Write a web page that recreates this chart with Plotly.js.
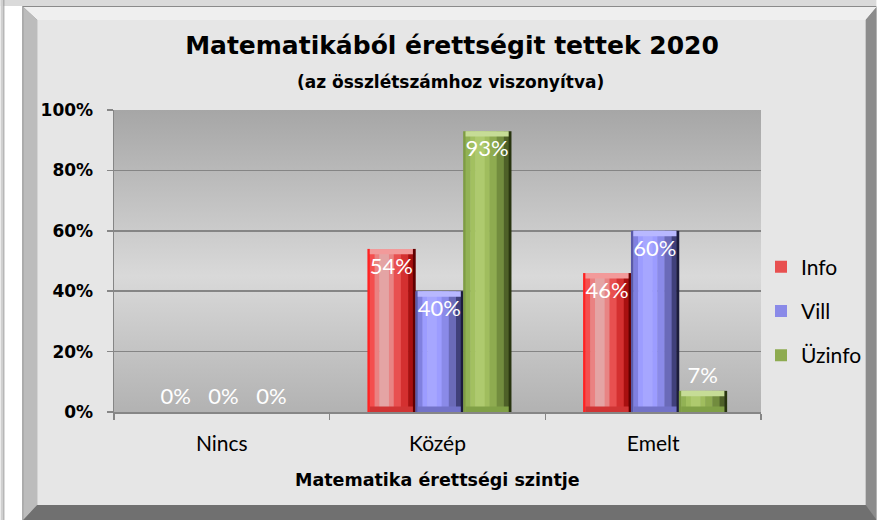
<!DOCTYPE html>
<html>
<head>
<meta charset="utf-8">
<script src="https://cdn.plot.ly/plotly-3.0.1.min.js"></script>
<style>
  html, body { margin: 0; padding: 0; background: #ffffff; }
  #chart { width: 879px; height: 520px; }
</style>
</head>
<body>
<div id="chart"></div>
<script>
// ---- data ----
const categories = ['Nincs', 'Közép', 'Emelt'];
const seriesNames = ['Info', 'Vill', 'Üzinfo'];
const infoValues = [0, 0.54, 0.46];
const villValues = [0, 0.40, 0.60];
const uzinfoValues = [0, 0.93, 0.07];

const W = 879, H = 520;
const M = { l: 114, r: 116, t: 110, b: 108 };
const PW = W - M.l - M.r, PH = H - M.t - M.b;
const SANS = 'Lato, "Open Sans", sans-serif';
const WIDE = '"DejaVu Sans", Verdana, sans-serif';

// ---- bar shading (style only): horizontal gradient as strips, edges as fractions of bar width ----
const stripEdges = [0, 0.05, 0.15, 0.25, 0.45, 0.55, 0.7, 0.85, 0.95, 1];
const stripColors = [
  ['#ff2222', '#f44e4e', '#ea8282', '#e4a4a4', '#e88484', '#e85050', '#d43030', '#a81010', '#600000'],
  ['#5a5aa8', '#8080e0', '#9c9cff', '#a6a6ff', '#9c9cff', '#8a8ae8', '#6a6ab8', '#40407a', '#1c1c3c'],
  ['#7e9c44', '#92b254', '#a2c060', '#aeca6e', '#a0bd5e', '#8eab50', '#728c3e', '#4e6028', '#28340f']
];
const legendStrip = 5;
const capColors = ['#f29a9a', '#b8b8ff', '#c6dc96'];
const footColors = ['#d03434', '#7272c8', '#80a046'];
const capH = 0.018;

const allValues = [infoValues, villValues, uzinfoValues];
const barW = 0.222;
const offsets = [-0.325, -0.103, 0.119];

const traces = [];
allValues.forEach((vals, i) => {
  const base = { type: 'bar', x: categories, hoverinfo: 'skip', legendgroup: 'g' + i, name: seriesNames[i] };
  for (let k = 0; k < stripEdges.length - 1; k++) {
    traces.push(Object.assign({}, base, {
      y: vals, showlegend: k === legendStrip,
      width: barW * (stripEdges[k + 1] - stripEdges[k]) + 0.002,
      offset: offsets[i] + barW * stripEdges[k],
      marker: { color: stripColors[i][k], line: { width: 0 } }
    }));
  }
  // top bevel highlight and bottom band
  traces.push(Object.assign({}, base, {
    y: vals.map(v => v > 0 ? capH : 0), base: vals.map(v => v > 0 ? v - capH : 0),
    showlegend: false, width: barW * 0.9, offset: offsets[i] + barW * 0.05,
    marker: { color: capColors[i], line: { width: 0 } }
  }));
  traces.push(Object.assign({}, base, {
    y: vals.map(v => v > 0 ? capH : 0),
    showlegend: false, width: barW * 0.9, offset: offsets[i] + barW * 0.05,
    marker: { color: footColors[i], line: { width: 0 } }
  }));
});
// data labels (transparent bars drawn last)
allValues.forEach((vals, i) => {
  traces.push({
    type: 'bar', x: categories, y: vals, hoverinfo: 'skip', showlegend: false,
    width: barW, offset: offsets[i],
    marker: { color: 'rgba(0,0,0,0)', line: { width: 0 } },
    text: vals.map(v => Math.round(v * 100) + '%'),
    textposition: vals.map(v => v < 0.1 ? 'outside' : 'inside'),
    insidetextanchor: 'end',
    textangle: 0,
    constraintext: 'none',
    cliponaxis: false,
    textfont: { family: SANS, size: 22, color: '#ffffff' }
  });
});

// ---- background frame (bevelled chart area + gradient plot area) ----
const svg =
  '<svg xmlns="http://www.w3.org/2000/svg" width="' + W + '" height="' + H + '" viewBox="0 0 ' + W + ' ' + H + '">' +
  '<defs><linearGradient id="pg" x1="0" y1="0" x2="0" y2="1">' +
  '<stop offset="0" stop-color="#a6a6a6"/><stop offset="0.55" stop-color="#d9d9d9"/><stop offset="1" stop-color="#b2b2b2"/>' +
  '</linearGradient></defs>' +
  '<rect x="0" y="0" width="' + W + '" height="' + H + '" fill="#ffffff"/>' +
  '<rect x="0" y="0" width="' + W + '" height="6" fill="#dadada"/>' +
  '<rect x="0" y="0" width="3" height="' + H + '" fill="#d0d0d0"/>' +
  '<rect x="3" y="0" width="1" height="' + H + '" fill="#9a9a9a"/>' +
  '<rect x="22" y="6" width="857" height="514" fill="#8a8a8a"/>' +
  '<polygon points="23,7 879,7 868,20 37,20" fill="#efefef"/>' +
  '<polygon points="23,7 37,20 37,505 23,520" fill="#bcbcbc"/>' +
  '<polygon points="879,7 868,20 868,505 879,520" fill="#8c8c8c"/>' +
  '<polygon points="23,520 37,505 868,505 879,520" fill="#707070"/>' +
  '<rect x="37" y="20" width="831" height="485" fill="#e6e6e6"/>' +
  '<rect x="' + M.l + '" y="' + M.t + '" width="' + PW + '" height="' + PH + '" fill="url(#pg)"/>' +
  '</svg>';

const layout = {
  width: W, height: H,
  margin: M,
  paper_bgcolor: '#ffffff',
  plot_bgcolor: 'rgba(0,0,0,0)',
  barmode: 'overlay',
  font: { family: SANS, size: 17, color: '#000000' },
  title: {
    text: 'Matematikából érettségit tettek 2020',
    font: { family: WIDE, size: 25, weight: 'bold', color: '#000000' },
    x: 452 / W, xanchor: 'center', xref: 'container',
    y: 1 - 45 / H, yanchor: 'middle', yref: 'container'
  },
  annotations: [
    {
      text: '(az összlétszámhoz viszonyítva)', showarrow: false,
      xref: 'paper', yref: 'paper', x: (452 - M.l) / PW, y: (H - M.b - 82) / PH,
      xanchor: 'center', yanchor: 'middle',
      font: { family: WIDE, size: 17, weight: 'bold', color: '#000000' }
    },
    {
      text: 'Matematika érettségi szintje', showarrow: false,
      xref: 'paper', yref: 'paper', x: 0.5, y: (H - M.b - 480) / PH,
      xanchor: 'center', yanchor: 'middle',
      font: { family: WIDE, size: 17.5, weight: 'bold', color: '#000000' }
    }
  ],
  xaxis: {
    type: 'category', range: [-0.5, 2.5], fixedrange: true,
    showgrid: false, zeroline: false,
    showline: true, linecolor: '#868686', linewidth: 1.5,
    ticks: 'outside', tickson: 'boundaries', ticklen: 6, tickcolor: '#868686', tickwidth: 1.5,
    ticklabelstandoff: 12,
    tickfont: { family: SANS, size: 21, color: '#000000' }
  },
  yaxis: {
    range: [0, 1], fixedrange: true, dtick: 0.2, tick0: 0, tickformat: '.0%',
    showgrid: true, gridcolor: '#858585', gridwidth: 1.6,
    zeroline: false,
    showline: true, linecolor: '#868686', linewidth: 1.5,
    ticks: 'outside', ticklen: 6, tickcolor: '#868686', tickwidth: 1.5,
    ticklabelstandoff: 10,
    tickfont: { family: WIDE, size: 17, weight: 'bold', color: '#000000' }
  },
  legend: {
    x: 1.0, xanchor: 'left', y: (H - M.b - 311) / PH, yanchor: 'middle',
    xref: 'paper', yref: 'paper',
    bgcolor: 'rgba(0,0,0,0)', borderwidth: 0,
    traceorder: 'grouped', tracegroupgap: 14,
    font: { family: SANS, size: 21, color: '#000000' }
  },
  images: [{
    source: 'data:image/svg+xml;charset=utf-8,' + encodeURIComponent(svg),
    xref: 'paper', yref: 'paper',
    x: -M.l / PW, y: (H - M.b) / PH,
    sizex: W / PW, sizey: H / PH,
    xanchor: 'left', yanchor: 'top',
    sizing: 'stretch', layer: 'below'
  }]
};

Plotly.newPlot('chart', traces, layout, { displayModeBar: false, staticPlot: true });
</script>
</body>
</html>
